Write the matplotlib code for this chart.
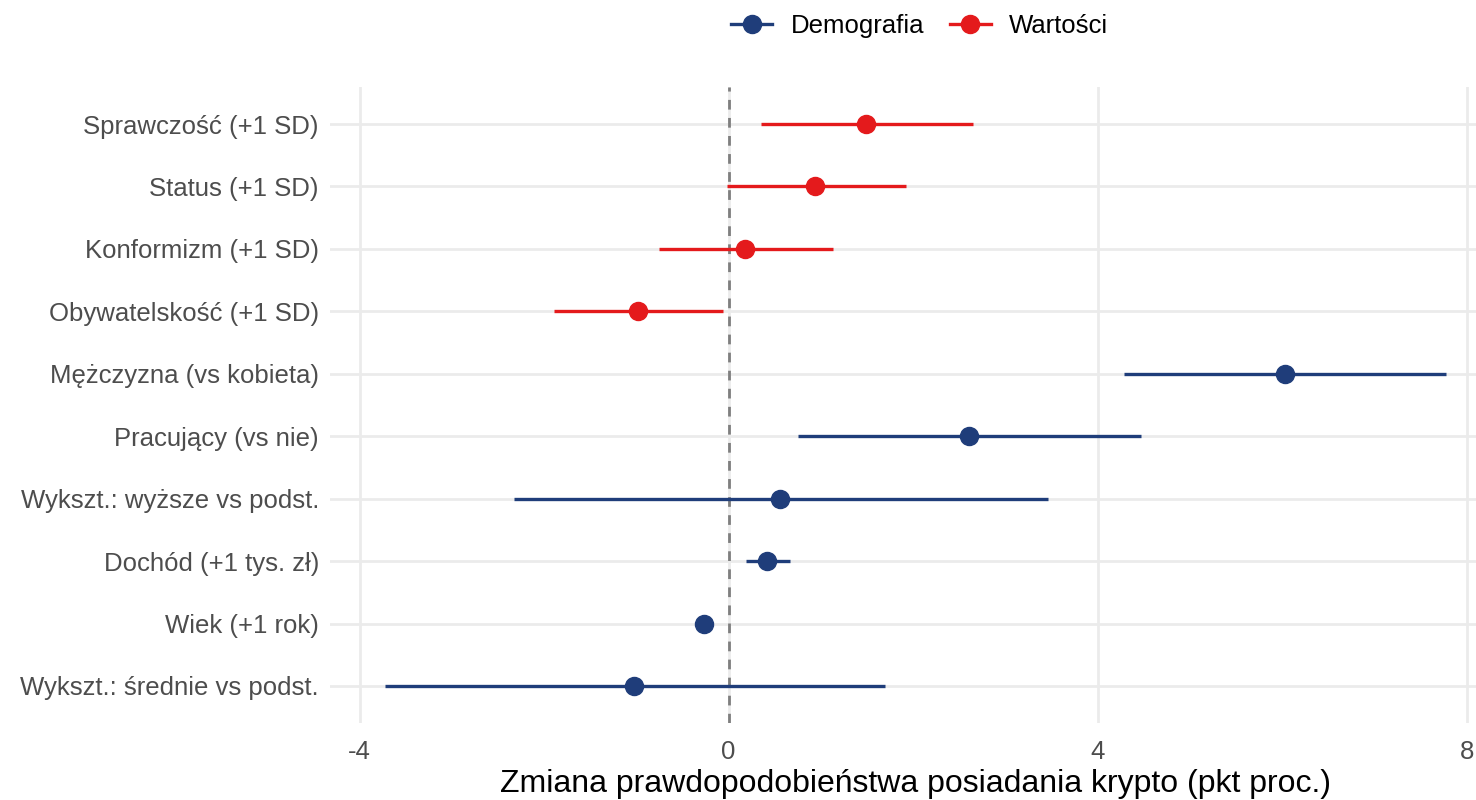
import matplotlib
matplotlib.use("Agg")
import matplotlib.pyplot as plt
from matplotlib.lines import Line2D

plt.rcParams['font.family'] = ['Liberation Sans', 'DejaVu Sans']

# bottom to top
labels = ["Wykszt.: średnie vs podst.", "Wiek (+1 rok)", "Dochód (+1 tys. zł)",
          "Wykszt.: wyższe vs podst.", "Pracujący (vs nie)", "Mężczyzna (vs kobieta)",
          "Obywatelskość (+1 SD)", "Konformizm (+1 SD)", "Status (+1 SD)", "Sprawczość (+1 SD)"]
estimate = [-1.03, -0.27, 0.42, 0.56, 2.60, 6.03, -0.98, 0.18, 0.94, 1.49]
ci_low = [-3.72, -0.32, 0.19, -2.33, 0.75, 4.28, -1.89, -0.75, -0.02, 0.35]
ci_high = [1.69, -0.22, 0.67, 3.46, 4.47, 7.77, -0.06, 1.13, 1.92, 2.65]
group = ["Demografia"] * 6 + ["Wartości"] * 4
colors = {"Demografia": "#1F3D7A", "Wartości": "#E41A1C"}

fig = plt.figure(figsize=(14.76, 8), dpi=100)
ax = fig.add_axes([330/1476, 1 - 723.4/800, 1 - 330/1476, (723.4 - 86.6)/800])

ys = list(range(1, len(labels) + 1))
ax.axvline(0, color="#7F7F7F", linestyle=(0, (3.5, 3)), linewidth=2.0, zorder=2)
for y, e, lo, hi, g in zip(ys, estimate, ci_low, ci_high, group):
    c = colors[g]
    ax.plot([lo, hi], [y, y], color=c, linewidth=2.4, solid_capstyle="butt", zorder=3)
    ax.plot([e], [y], "o", color=c, markersize=13, zorder=4)

ax.set_yticks(ys)
ax.set_yticklabels(labels)
ax.set_xticks([-4, 0, 4, 8])
ax.set_xticklabels(["-4", "0", "4", "8"])
ax.set_xlim(-4.32, 8.10)
ax.set_ylim(0.4, len(labels) + 0.6)
ax.grid(True, color="#EBEBEB", linewidth=2.0)
ax.set_axisbelow(True)
for s in ax.spines.values():
    s.set_visible(False)
ax.tick_params(axis="both", length=0, labelsize=18.5, labelcolor="#4D4D4D")
ax.tick_params(axis="y", pad=8)
ax.tick_params(axis="x", pad=12)
ax.set_xlabel("Zmiana prawdopodobieństwa posiadania krypto (pkt proc.)", fontsize=23, color="black", labelpad=4)
ax.xaxis.set_label_coords(0.5105, -0.072)

handles = [Line2D([0], [0], color=colors[k], linewidth=2.4, marker="o", markersize=13) for k in colors]
fig.legend(handles, list(colors.keys()), loc="upper center", bbox_to_anchor=(0.623, 1.012), ncol=2,
           frameon=False, fontsize=18.5, handlelength=1.6, columnspacing=1.0, handletextpad=0.7)

fig.savefig("out.png", dpi=100)
